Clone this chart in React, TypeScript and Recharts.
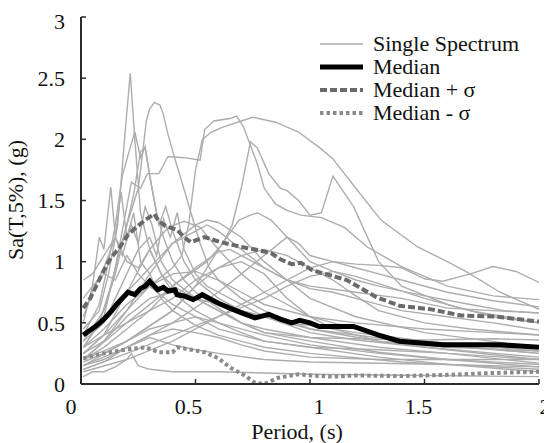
import { Line, LineChart, XAxis, YAxis } from "recharts";

type Pt = [number, number];

// period (s), Sa (g) pairs
const s01: Pt[] = [[0.01, 0.45], [0.08, 0.6], [0.12, 0.9], [0.16, 1.3], [0.19, 2.0], [0.215, 2.54], [0.235, 2.0], [0.26, 1.4], [0.3, 1.1], [0.35, 0.9], [0.4, 0.75], [0.5, 0.6], [0.6, 0.5], [0.8, 0.4], [1.0, 0.32], [1.3, 0.25], [1.6, 0.2], [2.0, 0.16]];
const s02: Pt[] = [[0.01, 0.35], [0.1, 0.6], [0.15, 0.9], [0.2, 1.3], [0.25, 1.6], [0.27, 1.9], [0.285, 2.15], [0.3, 2.25], [0.32, 2.3], [0.345, 2.28], [0.36, 2.2], [0.38, 2.04], [0.41, 1.84], [0.455, 1.56], [0.48, 1.4], [0.52, 1.15], [0.56, 0.95], [0.6, 0.85], [0.7, 0.7], [0.8, 0.6], [1.0, 0.45], [1.3, 0.35], [1.6, 0.28], [2.0, 0.2]];
const s03: Pt[] = [[0.01, 0.3], [0.1, 0.55], [0.15, 0.95], [0.2, 1.45], [0.22, 1.65], [0.26, 1.6], [0.29, 1.72], [0.34, 1.72], [0.38, 1.86], [0.45, 1.85], [0.52, 1.83], [0.54, 2.08], [0.58, 2.15], [0.65, 2.17], [0.68, 2.19], [0.71, 2.1], [0.74, 1.95], [0.77, 1.8], [0.8, 1.6], [0.85, 1.47], [0.9, 1.42], [0.96, 1.38], [1.05, 1.36], [1.15, 1.28], [1.25, 1.12], [1.4, 0.96], [1.6, 0.8], [1.8, 0.72], [2.0, 0.69]];
const s04: Pt[] = [[0.01, 0.25], [0.1, 0.4], [0.2, 0.6], [0.3, 0.8], [0.4, 0.95], [0.44, 1.05], [0.47, 1.3], [0.5, 1.75], [0.53, 2.0], [0.57, 2.06], [0.62, 2.1], [0.7, 2.15], [0.75, 2.18], [0.85, 2.14], [0.95, 2.06], [1.05, 1.92], [1.1, 1.84], [1.2, 1.6], [1.31, 1.34], [1.47, 1.12], [1.6, 1.0], [1.69, 0.91], [1.83, 0.75], [2.0, 0.61]];
const s05: Pt[] = [[0.01, 0.2], [0.2, 0.5], [0.4, 0.8], [0.55, 1.0], [0.62, 1.15], [0.66, 1.3], [0.7, 1.6], [0.74, 1.98], [0.77, 1.93], [0.82, 1.72], [0.87, 1.6], [0.9, 1.58], [0.95, 1.5], [1.0, 1.38], [1.05, 1.4], [1.1, 1.7], [1.19, 1.45], [1.3, 1.0], [1.4, 0.8], [1.6, 0.65], [1.8, 0.55], [2.0, 0.5]];
const s06: Pt[] = [[0.01, 0.2], [0.1, 0.35], [0.2, 0.6], [0.3, 0.9], [0.4, 1.15], [0.5, 1.3], [0.55, 1.34], [0.6, 1.32], [0.7, 1.2], [0.8, 1.0], [0.9, 0.85], [1.0, 0.7], [1.2, 0.55], [1.5, 0.42], [2.0, 0.3]];
const s07: Pt[] = [[0.01, 0.25], [0.1, 0.4], [0.2, 0.75], [0.3, 1.1], [0.38, 1.28], [0.45, 1.33], [0.52, 1.28], [0.6, 1.1], [0.7, 0.9], [0.8, 0.75], [1.0, 0.55], [1.3, 0.4], [1.6, 0.32], [2.0, 0.25]];
const s08: Pt[] = [[0.01, 0.15], [0.2, 0.35], [0.4, 0.6], [0.5, 0.8], [0.6, 1.1], [0.69, 1.34], [0.74, 1.38], [0.77, 1.4], [0.83, 1.34], [0.9, 1.2], [1.0, 1.0], [1.1, 0.92], [1.2, 0.88], [1.3, 0.82], [1.5, 0.7], [1.7, 0.6], [2.0, 0.5]];
const s09: Pt[] = [[0.01, 0.1], [0.2, 0.2], [0.4, 0.35], [0.6, 0.55], [0.8, 0.75], [1.0, 0.95], [1.1, 1.0], [1.2, 0.98], [1.3, 0.97], [1.4, 0.95], [1.5, 0.86], [1.58, 0.84], [1.7, 0.9], [1.8, 0.96], [1.9, 0.92], [2.0, 0.83]];
const s10: Pt[] = [[0.01, 0.4], [0.08, 0.65], [0.12, 1.0], [0.15, 1.3], [0.18, 1.7], [0.21, 1.9], [0.235, 2.06], [0.26, 1.85], [0.28, 1.94], [0.3, 1.7], [0.33, 1.4], [0.36, 1.2], [0.4, 1.0], [0.45, 0.85], [0.5, 0.75], [0.6, 0.62], [0.7, 0.5], [0.8, 0.42], [1.0, 0.35], [1.3, 0.26], [1.6, 0.2], [2.0, 0.14]];
const s11: Pt[] = [[0.01, 0.5], [0.05, 0.8], [0.08, 1.2], [0.1, 1.1], [0.13, 1.61], [0.15, 1.2], [0.175, 1.57], [0.2, 1.2], [0.23, 1.4], [0.26, 1.0], [0.3, 0.9], [0.35, 0.7], [0.4, 0.6], [0.5, 0.48], [0.6, 0.4], [0.8, 0.3], [1.0, 0.25], [1.4, 0.18], [2.0, 0.12]];
const s12: Pt[] = [[0.01, 0.3], [0.08, 0.5], [0.13, 0.8], [0.17, 1.1], [0.2, 1.3], [0.23, 1.55], [0.26, 1.9], [0.28, 1.93], [0.31, 1.6], [0.34, 1.3], [0.37, 1.45], [0.4, 1.25], [0.45, 1.0], [0.5, 0.85], [0.6, 0.7], [0.7, 0.6], [0.8, 0.55], [1.0, 0.45], [1.2, 0.4], [1.5, 0.33], [2.0, 0.25]];
const s13: Pt[] = [[0.01, 0.35], [0.1, 0.5], [0.15, 0.7], [0.2, 0.9], [0.25, 1.1], [0.3, 1.2], [0.33, 1.05], [0.36, 1.35], [0.39, 1.2], [0.42, 1.4], [0.45, 1.1], [0.5, 0.9], [0.55, 0.8], [0.6, 0.75], [0.7, 0.65], [0.8, 0.55], [1.0, 0.42], [1.2, 0.36], [1.5, 0.3], [2.0, 0.22]];
const s14: Pt[] = [[0.01, 0.55], [0.05, 0.75], [0.1, 0.95], [0.15, 1.2], [0.18, 1.05], [0.22, 1.3], [0.25, 1.15], [0.28, 1.45], [0.31, 1.3], [0.35, 1.0], [0.4, 0.85], [0.5, 0.7], [0.6, 0.6], [0.7, 0.5], [0.8, 0.45], [1.0, 0.38], [1.3, 0.3], [1.6, 0.25], [2.0, 0.2]];
const s15: Pt[] = [[0.01, 0.85], [0.05, 0.9], [0.1, 1.05], [0.15, 1.2], [0.2, 1.0], [0.25, 0.95], [0.3, 1.1], [0.35, 0.9], [0.4, 0.8], [0.5, 0.7], [0.6, 0.65], [0.7, 0.6], [0.8, 0.55], [0.9, 0.5], [1.0, 0.48], [1.2, 0.42], [1.5, 0.35], [2.0, 0.27]];
const s16: Pt[] = [[0.01, 0.2], [0.1, 0.3], [0.2, 0.45], [0.3, 0.6], [0.4, 0.8], [0.5, 0.95], [0.6, 1.08], [0.65, 1.1], [0.7, 1.05], [0.8, 0.95], [0.9, 0.85], [1.0, 0.78], [1.1, 0.75], [1.2, 0.7], [1.4, 0.6], [1.6, 0.55], [1.8, 0.5], [2.0, 0.44]];
const s17: Pt[] = [[0.01, 0.15], [0.2, 0.3], [0.4, 0.5], [0.6, 0.75], [0.7, 0.9], [0.8, 1.05], [0.9, 1.2], [0.95, 1.15], [1.0, 1.05], [1.1, 1.0], [1.2, 0.95], [1.3, 0.9], [1.4, 0.85], [1.6, 0.75], [1.8, 0.68], [2.0, 0.63]];
const s18: Pt[] = [[0.01, 0.12], [0.2, 0.25], [0.4, 0.4], [0.6, 0.55], [0.8, 0.7], [0.9, 0.8], [1.0, 0.88], [1.1, 0.92], [1.2, 0.85], [1.3, 0.8], [1.5, 0.72], [1.7, 0.65], [1.85, 0.6], [2.0, 0.58]];
const s19: Pt[] = [[0.01, 0.3], [0.1, 0.45], [0.2, 0.65], [0.3, 0.8], [0.4, 0.9], [0.5, 0.92], [0.6, 0.85], [0.7, 0.75], [0.8, 0.65], [1.0, 0.55], [1.2, 0.5], [1.5, 0.45], [1.8, 0.42], [2.0, 0.4]];
const s20: Pt[] = [[0.01, 0.25], [0.1, 0.35], [0.2, 0.55], [0.3, 0.7], [0.4, 0.75], [0.5, 0.7], [0.6, 0.6], [0.7, 0.5], [0.8, 0.42], [1.0, 0.38], [1.2, 0.37], [1.5, 0.36], [1.8, 0.37], [2.0, 0.36]];
const s21: Pt[] = [[0.01, 0.18], [0.1, 0.25], [0.2, 0.35], [0.3, 0.45], [0.4, 0.5], [0.5, 0.55], [0.6, 0.5], [0.7, 0.42], [0.8, 0.35], [1.0, 0.3], [1.3, 0.28], [1.6, 0.25], [2.0, 0.17]];
const s22: Pt[] = [[0.01, 0.15], [0.1, 0.2], [0.2, 0.3], [0.3, 0.38], [0.4, 0.32], [0.5, 0.28], [0.6, 0.25], [0.8, 0.2], [1.0, 0.18], [1.3, 0.17], [1.6, 0.16], [2.0, 0.14]];
const s23: Pt[] = [[0.01, 0.06], [0.05, 0.1], [0.1, 0.1], [0.15, 0.14], [0.2, 0.2], [0.22, 0.25], [0.25, 0.15], [0.3, 0.12], [0.4, 0.1], [0.6, 0.1], [0.8, 0.09], [1.0, 0.08], [1.5, 0.07], [2.0, 0.06]];
const s24: Pt[] = [[0.01, 0.3], [0.1, 0.4], [0.2, 0.5], [0.3, 0.6], [0.4, 0.7], [0.5, 0.85], [0.6, 0.95], [0.7, 1.0], [0.8, 0.9], [0.9, 0.7], [1.0, 0.55], [1.1, 0.45], [1.3, 0.35], [1.6, 0.3], [2.0, 0.27]];
const s25: Pt[] = [[0.01, 0.2], [0.2, 0.35], [0.4, 0.6], [0.5, 0.8], [0.6, 0.95], [0.7, 1.05], [0.8, 1.1], [0.9, 1.05], [1.0, 0.95], [1.1, 0.85], [1.2, 0.72], [1.3, 0.6], [1.5, 0.5], [1.7, 0.45], [2.0, 0.4]];
const s26: Pt[] = [[0.01, 0.7], [0.05, 0.8], [0.1, 0.9], [0.15, 0.85], [0.2, 1.05], [0.25, 0.9], [0.3, 0.8], [0.4, 0.65], [0.5, 0.55], [0.6, 0.45], [0.7, 0.4], [0.8, 0.35], [1.0, 0.3], [1.3, 0.22], [1.6, 0.16], [2.0, 0.1]];
const s27: Pt[] = [[0.01, 0.12], [0.1, 0.18], [0.2, 0.3], [0.3, 0.4], [0.4, 0.45], [0.5, 0.42], [0.6, 0.38], [0.7, 0.32], [0.8, 0.27], [1.0, 0.22], [1.3, 0.2], [1.6, 0.2], [2.0, 0.2]];
const s28: Pt[] = [[0.01, 0.4], [0.1, 0.55], [0.2, 0.75], [0.3, 0.95], [0.4, 1.15], [0.5, 1.25], [0.55, 1.3], [0.6, 1.25], [0.7, 1.1], [0.8, 0.95], [0.9, 0.85], [1.0, 0.8], [1.2, 0.75], [1.4, 0.7], [1.6, 0.62], [1.8, 0.6], [2.0, 0.58]];

const median: Pt[] = [[0.01, 0.4], [0.04, 0.44], [0.07, 0.48], [0.1, 0.53], [0.13, 0.59], [0.16, 0.66], [0.19, 0.72], [0.205, 0.75], [0.235, 0.73], [0.26, 0.78], [0.28, 0.8], [0.3, 0.84], [0.32, 0.8], [0.335, 0.77], [0.36, 0.79], [0.38, 0.76], [0.41, 0.77], [0.42, 0.73], [0.45, 0.72], [0.49, 0.69], [0.53, 0.73], [0.57, 0.69], [0.6, 0.66], [0.65, 0.62], [0.69, 0.59], [0.76, 0.54], [0.82, 0.57], [0.87, 0.53], [0.92, 0.5], [0.955, 0.52], [1.0, 0.5], [1.04, 0.47], [1.19, 0.47], [1.3, 0.4], [1.39, 0.35], [1.58, 0.32], [1.83, 0.32], [2.0, 0.3]];
const medianPlus: Pt[] = [[0.01, 0.62], [0.04, 0.7], [0.074, 0.83], [0.1, 0.93], [0.13, 1.03], [0.17, 1.12], [0.205, 1.22], [0.24, 1.28], [0.28, 1.34], [0.32, 1.39], [0.34, 1.33], [0.37, 1.29], [0.42, 1.26], [0.45, 1.2], [0.48, 1.16], [0.54, 1.2], [0.61, 1.16], [0.7, 1.12], [0.76, 1.1], [0.83, 1.07], [0.87, 1.02], [0.92, 0.98], [0.96, 0.99], [1.01, 0.93], [1.16, 0.85], [1.29, 0.71], [1.39, 0.64], [1.53, 0.61], [1.66, 0.56], [1.82, 0.55], [2.0, 0.51]];
const medianMinus: Pt[] = [[0.01, 0.21], [0.07, 0.24], [0.13, 0.26], [0.19, 0.28], [0.28, 0.3], [0.34, 0.26], [0.4, 0.26], [0.42, 0.3], [0.48, 0.28], [0.54, 0.26], [0.6, 0.21], [0.655, 0.13], [0.715, 0.07], [0.76, 0.01], [0.8, 0.0], [0.86, 0.05], [0.95, 0.08], [1.0, 0.07], [1.1, 0.06], [1.2, 0.07], [1.4, 0.065], [1.6, 0.075], [1.8, 0.09], [2.0, 0.1]];

const spectra = [s01, s02, s03, s04, s05, s06, s07, s08, s09, s10, s11, s12, s13, s14, s15, s16, s17, s18, s19, s20, s21, s22, s23, s24, s25, s26, s27, s28];

const xTicks = [0, 0.5, 1, 1.5, 2];
const yTicks = [0, 0.5, 1, 1.5, 2, 2.5, 3];

const legendItems = ["Single Spectrum", "Median", "Median + σ", "Median - σ"];

const FONT = '"Liberation Serif", "DejaVu Serif", serif';
const AXIS = "#2b2b2b";
const GREY = "#adadad";
const PLUS = "#6a6a6a";
const MINUS = "#8a8a8a";

// the scanned labels sit a little off their ticks
const xLabelShift: Record<number, number> = { 0: -10, 0.5: -7, 1: 9, 1.5: -6, 2: 6 };

const toRows = (pts: Pt[]) => pts.map(([t, sa]) => ({ t, sa }));

function XTick(props: any) {
  const { x, y, payload } = props;
  const v = payload.value as number;
  return (
    <text
      x={x + (xLabelShift[v] ?? 0)}
      y={y}
      dy="0.71em"
      textAnchor="middle"
      fill="#111"
      fontSize={22}
      fontFamily={FONT}
    >
      {String(v)}
    </text>
  );
}

const legendStyles = [
  { stroke: GREY, width: 1.5, dash: undefined },
  { stroke: "#000", width: 5, dash: undefined },
  { stroke: PLUS, width: 4, dash: "7 3" },
  { stroke: MINUS, width: 4, dash: "3.5 3" },
];

export default function App() {
  return (
    <div
      style={{
        position: "relative",
        width: 544,
        height: 435,
        fontFamily: FONT,
        color: "#111",
      }}
    >
      <LineChart
        width={544}
        height={435}
        margin={{ top: 9, right: 13, bottom: 0, left: 0 }}
      >
        <XAxis
          xAxisId="bottom"
          type="number"
          dataKey="t"
          domain={[0, 2]}
          ticks={xTicks}
          allowDataOverflow
          height={59}
          tickSize={-5}
          tickMargin={19}
          axisLine={{ stroke: AXIS, strokeWidth: 2 }}
          tickLine={{ stroke: AXIS, strokeWidth: 1.5 }}
          tick={<XTick />}
        />
        <XAxis
          xAxisId="top"
          orientation="top"
          type="number"
          dataKey="t"
          domain={[0, 2]}
          ticks={xTicks}
          allowDataOverflow
          height={0}
          tickSize={-5}
          tick={false}
          axisLine={{ stroke: AXIS, strokeWidth: 2 }}
          tickLine={{ stroke: AXIS, strokeWidth: 1.5 }}
        />
        <YAxis
          yAxisId="left"
          type="number"
          domain={[0, 3]}
          ticks={yTicks}
          allowDataOverflow
          width={73}
          tickSize={-5}
          tickMargin={21}
          axisLine={{ stroke: AXIS, strokeWidth: 2 }}
          tickLine={{ stroke: AXIS, strokeWidth: 1.5 }}
          tick={{ fill: "#111", fontSize: 22, fontFamily: FONT }}
        />
        <YAxis
          yAxisId="right"
          orientation="right"
          type="number"
          domain={[0, 3]}
          ticks={yTicks}
          allowDataOverflow
          width={0}
          tickSize={-5}
          tick={false}
          axisLine={{ stroke: AXIS, strokeWidth: 2 }}
          tickLine={{ stroke: AXIS, strokeWidth: 1.5 }}
        />

        {spectra.map((pts, i) => (
          <Line
            key={`s${i}`}
            xAxisId="bottom"
            yAxisId="left"
            data={toRows(pts)}
            dataKey="sa"
            type="linear"
            stroke={GREY}
            strokeWidth={1.4}
            dot={false}
            activeDot={false}
            isAnimationActive={false}
          />
        ))}

        <Line
          xAxisId="bottom"
          yAxisId="left"
          data={toRows(medianMinus)}
          dataKey="sa"
          type="linear"
          stroke={MINUS}
          strokeWidth={4}
          strokeDasharray="3.5 3"
          dot={false}
          activeDot={false}
          isAnimationActive={false}
        />
        <Line
          xAxisId="bottom"
          yAxisId="left"
          data={toRows(medianPlus)}
          dataKey="sa"
          type="linear"
          stroke={PLUS}
          strokeWidth={4}
          strokeDasharray="7 3"
          dot={false}
          activeDot={false}
          isAnimationActive={false}
        />
        <Line
          xAxisId="bottom"
          yAxisId="left"
          data={toRows(median)}
          dataKey="sa"
          type="linear"
          stroke="#000"
          strokeWidth={5}
          dot={false}
          activeDot={false}
          isAnimationActive={false}
        />
      </LineChart>

      {/* legend, top right inside the frame */}
      <div style={{ position: "absolute", left: 312, top: 24, fontSize: 22 }}>
        {legendItems.map((label, i) => {
          const st = legendStyles[i];
          return (
            <div
              key={label}
              style={{ display: "flex", alignItems: "center", height: 23 }}
            >
              <svg width={45} height={23} style={{ marginRight: 8 }}>
                <line
                  x1={0}
                  y1={12}
                  x2={43}
                  y2={12}
                  stroke={st.stroke}
                  strokeWidth={st.width}
                  strokeDasharray={st.dash}
                />
              </svg>
              <span style={{ whiteSpace: "nowrap", lineHeight: "23px" }}>
                {label}
              </span>
            </div>
          );
        })}
      </div>

      <div
        style={{
          position: "absolute",
          left: 8,
          top: 192,
          transform: "translate(-50%, -50%) rotate(-90deg)",
          whiteSpace: "nowrap",
          fontSize: 22,
          lineHeight: 1,
        }}
      >
        Sa(T,5%), (g)
      </div>

      <div
        style={{
          position: "absolute",
          left: 289,
          top: 424,
          transform: "translate(-50%, -50%)",
          whiteSpace: "nowrap",
          fontSize: 22,
          lineHeight: 1,
        }}
      >
        Period, (s)
      </div>
    </div>
  );
}
